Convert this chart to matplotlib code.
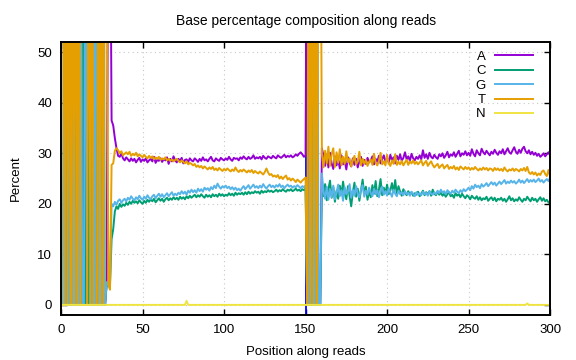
import numpy as np
import matplotlib
matplotlib.use("Agg")
import matplotlib.pyplot as plt

plt.rcParams['font.family'] = ['Liberation Sans', 'DejaVu Sans']
plt.rcParams['font.size'] = 9.5

# positions 1..300 along the reads
pos = np.arange(1, 301)

# A (%)
pct_a = [
    0, 0, 0, 0, 0, 0, 0, 0, 0, 0,
    0, 0, 0, 100, 12.6, 0, 0, 0, 0, 0,
    0, 0, 0, 0, 0, 0, 0, 4.5, 88, 89,
    36.5, 35.5, 33.0, 31.0, 29.5, 29.3, 30.0, 29.0, 28.6, 29.2,
    28.8, 28.4, 29.0, 28.5, 28.9, 28.2, 28.7, 29.1, 28.3, 28.8,
    28.5, 29.0, 28.2, 28.6, 28.9, 28.4, 29.3, 28.1, 28.7, 28.5,
    29.0, 28.3, 28.8, 28.6, 29.2, 27.9, 28.9, 28.4, 29.4, 28.6,
    28.2, 28.9, 28.5, 29.1, 28.0, 28.7, 28.8, 28.3, 29.0, 28.6,
    28.4, 29.0, 28.7, 28.3, 28.9, 28.5, 29.2, 28.6, 28.8, 28.4,
    28.9, 29.3, 28.6, 28.4, 29.0, 28.7, 28.5, 29.1, 28.8, 28.6,
    29.0, 28.7, 29.3, 28.8, 28.5, 29.1, 28.9, 29.0, 28.6, 29.2,
    28.9, 29.4, 29.0, 28.8, 29.3, 28.9, 29.1, 29.6, 28.9, 29.2,
    29.0, 29.3, 28.8, 29.5, 29.1, 28.9, 29.4, 29.2, 29.0, 29.5,
    29.2, 29.0, 29.6, 29.3, 29.1, 29.4, 29.7, 29.2, 29.5, 29.3,
    29.6, 29.2, 29.4, 29.8, 29.5, 29.9, 30.2, 29.8, 29.3, 29.6,
    100, 0, 0, 0, 0, 0, 0, 0, 0,
    31.0, 29.5, 27.5, 29.8, 27.2, 30.1, 28.0, 26.9, 29.4, 27.6,
    28.8, 27.0, 29.6, 27.8, 28.5, 26.8, 29.2, 28.1, 27.4, 29.0,
    27.7, 28.9, 27.2, 28.4, 29.3, 27.5, 28.7, 27.9, 29.1, 28.2,
    28.6, 29.4, 27.8, 28.9, 28.3, 29.5, 28.0, 28.8, 29.6, 28.4,
    29.0, 28.2, 29.7, 28.6, 29.2, 28.0, 29.5, 28.7, 29.8, 28.5,
    29.1, 30.2, 28.8, 29.4, 28.5, 29.9, 29.0, 28.6, 29.3, 28.9,
    29.6, 28.8, 30.6, 29.1, 29.8, 28.9, 30.1, 29.3, 29.0, 29.7,
    29.2, 28.9, 29.8, 29.4, 30.0, 29.1, 29.6, 30.3, 29.2, 29.8,
    29.5, 30.2, 29.3, 29.9, 30.5, 29.4, 30.0, 29.7, 30.4, 29.6,
    30.1, 29.5, 30.8, 29.9, 29.4, 30.6, 30.0, 29.6, 30.9, 30.2,
    29.8, 30.5, 30.0, 29.6, 30.3, 29.9, 30.7, 30.1, 29.7, 30.4,
    30.0, 30.8, 29.8, 30.4, 31.0, 30.2, 29.9, 30.6, 31.2, 30.3,
    29.9, 30.7, 30.1, 30.9, 31.3, 30.4, 30.0, 30.6, 29.8, 30.3,
    29.7, 30.1, 29.5, 29.9, 29.3, 29.6, 30.0, 29.4, 29.8, 30.2, 29.6,
]

# C (%)
pct_c = [
    0, 0, 0, 100, 0, 0, 0, 100, 0, 0,
    0, 0, 100, 0, 0, 100, 0, 100, 0, 0,
    100, 0, 0, 100, 0, 0, 0, 4, 4, 3.5,
    13.0, 15.0, 18.5, 19.5, 19.0, 20.0, 19.4, 19.9, 19.6, 20.2,
    19.8, 20.4, 20.0, 20.6, 20.2, 20.5, 20.1, 20.7, 20.3, 20.0,
    20.6, 20.2, 20.8, 20.4, 20.9, 20.5, 21.0, 20.3, 20.7, 21.1,
    20.6, 21.0, 20.4, 20.9, 21.2, 20.7, 21.1, 20.8, 21.3, 20.9,
    21.2, 20.8, 21.4, 21.0, 21.3, 20.9, 21.5, 21.1, 21.6, 21.2,
    21.5, 21.8, 21.3, 21.7, 21.4, 21.9, 21.5, 21.2, 21.8, 21.4,
    21.7, 21.3, 21.9, 21.5, 21.8, 21.4, 22.0, 21.6, 21.9, 21.5,
    21.8, 21.6, 22.1, 21.7, 22.0, 21.6, 22.2, 21.8, 22.1, 21.9,
    22.2, 21.8, 22.3, 21.9, 22.4, 22.0, 22.3, 22.1, 22.5, 22.2,
    22.4, 22.0, 22.6, 22.2, 22.5, 22.3, 22.7, 22.4, 22.6, 22.3,
    22.5, 22.8, 22.4, 22.7, 22.5, 22.9, 22.6, 22.4, 22.8, 22.6,
    22.9, 22.5, 22.7, 23.0, 22.6, 22.8, 22.5, 22.9, 22.7, 23.0,
    0, 0, 0, 0, 100, 0, 0, 0, 0,
    22.8, 21.5, 23.9, 20.7, 22.9, 24.6, 21.2, 23.3, 20.4, 22.6,
    21.0, 23.6, 21.8, 24.4, 22.1, 20.9, 23.5, 21.6, 19.5, 22.3,
    24.2, 21.4, 23.0, 20.6, 22.7, 24.8, 21.9, 23.4, 20.8, 22.5,
    21.3, 23.7, 22.0, 24.5, 21.5, 22.8, 24.9, 21.7, 23.2, 22.1,
    23.8, 21.9, 22.6, 24.1, 22.3, 24.7, 21.8, 23.5, 22.4, 21.6,
    22.9, 22.2, 21.7, 22.5, 21.9, 22.3, 21.6, 22.1, 21.8, 22.4,
    21.5, 22.0, 22.6, 21.7, 22.3, 21.9, 22.5, 21.6, 22.8, 22.0,
    21.7, 22.4, 21.8, 22.2, 21.6, 22.0, 21.4, 21.9, 22.3, 21.5,
    21.8, 21.2, 22.1, 21.6, 21.9, 21.3, 22.0, 21.5, 21.1, 21.7,
    21.4, 20.9, 21.6, 21.2, 21.0, 21.5, 20.8, 21.3, 20.7, 21.1,
    20.9, 21.4, 20.6, 21.0, 21.3, 20.7, 21.2, 20.5, 21.0, 20.8,
    21.2, 20.6, 21.0, 20.4, 20.9, 21.5, 20.7, 21.1, 20.5, 20.9,
    20.6, 21.3, 20.8, 20.4, 21.0, 20.7, 21.4, 20.9, 20.5, 21.2,
    20.7, 21.0, 20.4, 20.9, 21.3, 20.6, 21.1, 20.5, 20.8, 20.3, 20.0,
]

# G (%)
pct_g = [
    0, 100, 0, 0, 0, 100, 0, 0, 0, 100,
    0, 100, 0, 0, 87.4, 0, 0, 0, 0, 100,
    0, 100, 0, 0, 0, 100, 0, 4.5, 4, 4.5,
    20.0, 19.5, 20.4, 19.8, 20.6, 20.9, 20.2, 20.7, 21.0, 20.5,
    21.2, 20.8, 21.5, 21.0, 20.7, 21.3, 20.9, 21.6, 21.1, 20.8,
    21.4, 21.0, 21.7, 21.2, 20.9, 21.5, 21.8, 21.1, 21.6, 22.0,
    21.4, 21.9, 21.3, 21.7, 22.1, 21.5, 21.9, 22.3, 21.6, 22.0,
    21.7, 22.2, 21.9, 22.5, 22.0, 22.4, 21.8, 22.6, 22.2, 22.8,
    22.3, 22.7, 22.2, 23.0, 22.5, 22.9, 22.4, 23.2, 22.8, 23.1,
    22.6, 23.3, 22.9, 23.6, 23.1, 24.0, 23.4, 23.0, 23.5, 23.2,
    23.6, 23.1, 23.4, 22.9, 23.3, 22.8, 23.2, 22.7, 23.0, 22.6,
    23.1, 23.5, 22.9, 23.3, 23.7, 23.0, 23.4, 23.8, 23.2, 23.5,
    23.1, 23.6, 23.2, 23.9, 23.4, 23.0, 23.5, 23.8, 23.3, 23.6,
    23.2, 23.7, 23.4, 23.9, 23.3, 23.6, 23.1, 23.5, 23.8, 23.4,
    23.6, 23.2, 23.5, 23.3, 23.7, 23.4, 23.1, 23.5, 23.3, 23.6,
    0, 0, 100, 0, 0, 0, 100, 0, 0,
    26.0, 22.5, 21.0, 23.4, 20.8, 22.9, 21.3, 23.6, 20.9, 22.2,
    23.8, 21.5, 22.7, 20.6, 23.3, 21.9, 22.4, 23.9, 21.2, 22.8,
    21.6, 23.5, 22.0, 21.3, 22.9, 23.7, 21.4, 22.6, 21.8, 23.2,
    22.1, 21.5, 23.0, 21.9, 22.7, 21.3, 22.4, 23.4, 21.8, 22.5,
    21.6, 23.1, 22.2, 21.4, 22.8, 22.0, 21.5, 22.6, 21.9, 22.3,
    21.7, 22.5, 21.9, 22.2, 21.6, 22.4, 22.0, 21.5, 22.3, 21.8,
    22.1, 21.7, 22.4, 21.9, 22.2, 21.6, 22.5, 22.0, 21.8, 22.3,
    21.9, 22.6, 22.1, 22.8, 22.2, 22.5, 21.9, 22.7, 22.3, 22.0,
    22.6, 22.2, 22.8, 22.4, 22.1, 22.7, 22.3, 22.9, 22.5, 22.8,
    23.2, 22.7, 23.5, 23.0, 23.8, 23.3, 23.6, 23.1, 23.9, 23.4,
    23.7, 24.1, 23.5, 23.9, 24.3, 23.8, 24.2, 23.6, 24.0, 24.4,
    23.9, 24.3, 24.7, 24.0, 24.4, 24.1, 24.6, 24.2, 24.5, 24.0,
    24.3, 24.8, 24.2, 24.6, 24.1, 24.5, 24.9, 24.3, 24.7, 24.4,
    24.8, 24.3, 24.6, 25.0, 24.4, 24.7, 24.2, 24.6, 24.9, 24.5, 25.2,
]

# T (%)
pct_t = [
    100, 0, 100, 0, 100, 0, 100, 0, 100, 0,
    100, 0, 0, 0, 0, 0, 100, 0, 100, 0,
    0, 0, 100, 0, 100, 0, 100, 87, 4, 3,
    27.7, 28.0, 30.5, 31.0, 30.6, 30.0, 30.4, 29.6, 29.9, 30.2,
    29.8, 30.3, 29.5, 29.9, 29.6, 30.1, 29.4, 29.8, 29.5, 29.2,
    29.7, 29.3, 29.0, 29.5, 29.1, 29.4, 28.8, 29.2, 28.9, 29.3,
    28.7, 29.0, 28.8, 29.2, 28.6, 28.9, 28.5, 28.8, 28.4, 28.7,
    28.9, 28.5, 28.2, 28.6, 28.3, 28.0, 28.4, 27.8, 28.1, 27.9,
    27.6, 27.9, 27.3, 27.6, 27.2, 27.5, 27.0, 27.4, 27.1, 26.8,
    27.2, 26.9, 27.3, 26.7, 27.0, 26.6, 27.1, 26.8, 26.5, 26.9,
    26.6, 27.0, 26.7, 26.4, 26.8, 26.5, 27.2, 26.6, 26.3, 26.7,
    26.4, 26.8, 26.5, 26.2, 26.6, 26.3, 26.7, 26.1, 26.5, 26.2,
    26.0, 26.4, 26.1, 25.8, 26.3, 27.0, 26.2, 25.7, 25.9, 25.4,
    25.6, 25.3, 25.7, 25.0, 25.4, 24.9, 25.3, 25.6, 24.8, 25.1,
    24.6, 25.0, 24.7, 24.3, 24.8, 24.5, 24.2, 24.6, 24.9, 25.2,
    0, 100, 0, 100, 0, 100, 0, 100, 100,
    30.0, 27.2, 30.5, 28.0, 31.3, 27.5, 29.8, 31.0, 27.3, 30.2,
    28.1, 30.8, 27.6, 29.3, 27.9, 30.4, 28.2, 29.0, 27.4, 28.6,
    29.5, 27.8, 28.4, 30.3, 27.6, 28.9, 27.9, 28.7, 27.5, 28.3,
    28.8, 27.7, 29.9, 28.1, 27.6, 28.5, 30.1, 27.8, 28.4, 27.6,
    29.7, 28.0, 27.5, 28.6, 27.9, 29.8, 27.7, 28.3, 27.8, 28.5,
    27.6, 28.2, 28.7, 27.7, 28.4, 28.0, 28.6, 27.9, 28.3, 27.8,
    28.2, 28.6, 27.6, 28.1, 28.5, 27.5, 28.0, 28.4, 27.7, 27.2,
    27.6, 27.9, 27.1, 27.5, 27.8, 27.0, 27.4, 27.7, 26.9, 27.3,
    27.0, 27.5, 26.8, 27.2, 26.7, 27.4, 27.1, 26.8, 27.3, 26.9,
    27.2, 26.7, 27.1, 26.8, 27.3, 26.9, 26.6, 27.0, 26.7, 27.2,
    26.8, 27.1, 26.6, 27.0, 26.9, 26.5, 27.1, 26.7, 27.0, 26.6,
    26.9, 26.5, 27.2, 26.7, 26.4, 26.8, 26.6, 27.0, 26.5, 26.9,
    26.7, 26.4, 26.9, 26.6, 27.1, 26.5, 27.3, 26.2, 25.9, 26.3,
    25.8, 26.2, 25.6, 26.0, 25.7, 26.4, 26.6, 25.9, 25.5, 26.7, 25.4,
]

# N (%) - zero except two tiny bumps
pct_n = [0.0] * 300
pct_n[76] = 0.8
pct_n[285] = 0.3

bases = ['A', 'C', 'G', 'T', 'N']
colors = ['#9400d3', '#009e73', '#56b4e9', '#e69f00', '#f0e442']
series = [pct_a, pct_c, pct_g, pct_t, pct_n]

fig = plt.figure(figsize=(5.76, 3.6), dpi=100)
ax = fig.add_axes([0.106, 0.125, 0.849, 0.758])

for name, col, vals in zip(bases, colors, series):
    ax.plot(pos, vals, color=col, lw=1.4, label=name)

# boundary between read 1 and read 2
ax.axvline(150, color='#0000ff', lw=1.3, zorder=1.5)

ax.set_xlim(0, 300)
ax.set_ylim(-2, 52)
ax.set_xticks(np.arange(0, 301, 50))
ax.set_yticks(np.arange(0, 51, 10))
ax.grid(True, color='#c8c8c8', linestyle=(0, (1, 3)), lw=0.8)
ax.set_axisbelow(True)
ax.tick_params(direction='in', length=4.5, width=1.0, top=True, right=True, pad=6.5)
for sp in ax.spines.values():
    sp.set_linewidth(1.4)

ax.set_title('Base percentage composition along reads', pad=12, fontsize=10)
ax.set_xlabel('Position along reads', labelpad=7)
ax.set_ylabel('Percent', labelpad=11)

ax.legend(loc='upper right', bbox_to_anchor=(0.965, 0.968), frameon=False,
          markerfirst=False, handlelength=2.9, handletextpad=0.7,
          labelspacing=0.16, borderpad=0, borderaxespad=0)

fig.savefig('out.png', dpi=100)
